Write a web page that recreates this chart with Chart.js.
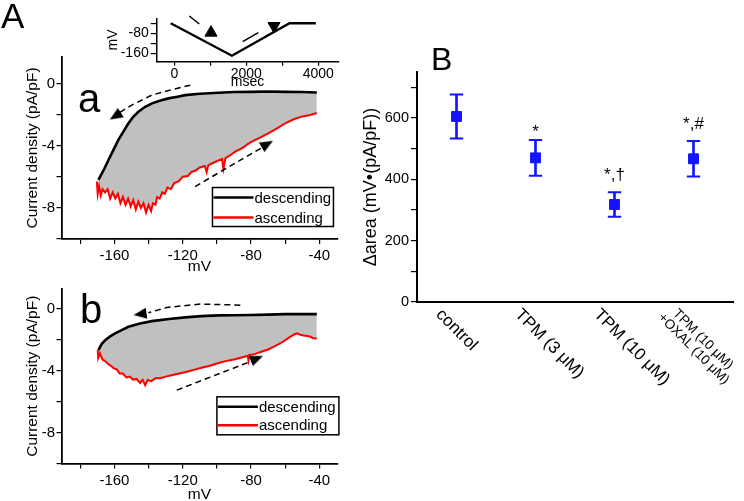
<!DOCTYPE html>
<html lang="en">
<head>
<meta charset="UTF-8">
<title>Ramp currents and Δarea</title>
<script src="https://cdn.jsdelivr.net/npm/chart.js"></script>
<style>
  body { margin: 0; background: #fff; }
  #fig { position: relative; width: 744px; height: 501px; overflow: hidden; background: #fff; }
  #fig canvas { position: absolute; left: 0; top: 0; }
</style>
</head>
<body>
<div id="fig">
  <canvas id="rampA" width="744" height="520"></canvas>
  <canvas id="rampB" width="744" height="520"></canvas>
  <canvas id="protocol" width="744" height="520"></canvas>
  <canvas id="areaChart" width="744" height="520"></canvas>
</div>
<script>
// ---- panel a (control): descending / ascending ramp, mV vs pA/pF
const aDescMV = [-169.4, -166, -163.5, -160.5, -157.7, -154.5, -151.8, -149, -146, -142, -138, -133, -128.4, -123, -118.6, -110, -99, -90, -80, -70, -60, -50, -41.5];
const aDescPA = [-6.2, -5.5, -4.92, -4.25, -3.63, -3.05, -2.56, -2.15, -1.82, -1.5, -1.28, -1.1, -0.96, -0.85, -0.75, -0.66, -0.6, -0.55, -0.54, -0.52, -0.54, -0.55, -0.58];
const aAscMV = [-170.3, -169.8, -169, -168, -167, -165.5, -164, -162.5, -161, -159.5, -158, -156.5, -155, -153.5, -152, -150.5, -149, -147.5, -146, -144.5, -143, -141.5, -140, -138.5, -137.5, -136, -135, -133.5, -132, -130.5, -129, -127, -125, -122.5, -120, -117, -115, -112.5, -110, -107, -106, -105, -102, -99, -97, -96.2, -95, -92, -89.3, -85, -82, -79.6, -75, -70, -65, -60, -55, -50, -46, -43, -41.5];
const aAscPA = [-6.3, -7.1, -6.6, -7.2, -6.8, -7.0, -6.8, -7.4, -7.0, -7.4, -7.1, -7.7, -7.3, -7.8, -7.4, -7.9, -7.5, -8.1, -7.6, -8.0, -7.7, -8.3, -7.8, -8.2, -7.7, -7.8, -7.3, -7.4, -7.0, -7.1, -6.7, -6.8, -6.4, -6.3, -6.0, -5.95, -5.7, -5.6, -5.4, -5.3, -5.7, -5.25, -5.1, -4.95, -4.85, -5.5, -4.8, -4.6, -4.38, -4.15, -3.9, -3.74, -3.5, -3.21, -2.9, -2.56, -2.3, -2.12, -2.05, -1.95, -1.9];

// ---- panel b (TPM 10 μM)
const bDescMV = [-169.4, -167.5, -165.4, -162.5, -159.6, -155.5, -151.8, -145, -138.1, -128, -118.6, -109, -99, -90, -80, -70, -60, -50, -41.5];
const bDescPA = [-2.69, -2.3, -2.05, -1.8, -1.61, -1.38, -1.19, -0.98, -0.82, -0.68, -0.58, -0.5, -0.45, -0.44, -0.43, -0.4, -0.37, -0.37, -0.37];
const bAscMV = [-169.8, -169.5, -168.5, -167, -165.5, -163.5, -162, -160.5, -158.5, -157, -155, -153, -151, -149, -147, -145, -143.5, -142, -140.5, -138.5, -136, -133.2, -130, -126, -122, -117.6, -113, -108, -104, -100, -95, -90, -85, -82, -81.5, -81, -78, -74, -70, -66.9, -62, -58, -55, -53.2, -51.5, -49.3, -46, -43.5, -41.5];
const bAscPA = [-2.69, -3.2, -2.9, -3.3, -3.4, -3.6, -3.7, -3.85, -3.95, -4.2, -4.2, -4.45, -4.4, -4.6, -4.55, -4.8, -4.6, -4.95, -4.6, -4.7, -4.5, -4.5, -4.4, -4.3, -4.2, -4.09, -3.95, -3.8, -3.7, -3.55, -3.4, -3.3, -3.15, -3.05, -3.35, -3.0, -2.95, -2.8, -2.65, -2.48, -2.2, -1.9, -1.7, -1.61, -1.68, -1.75, -1.8, -1.92, -1.94];

// dashed direction arrows [x, y] and arrow heads [x, y, rotation]
const aGuideTop = [[-115.6, -127.4, -138.1, -149.8, -157.7], [-0.11, -0.43, -0.75, -1.39, -1.92]];
const aGuideLow = [[-112.8, -72.5], [-6.63, -4.05]];
const aHeads = [[-159.5, -70.5], [-2.1, -3.9], [238, 60]];
const bGuideTop = [[-86.3, -109.8, -129.3, -140.1], [0.21, 0.28, 0.06, -0.28]];
const bGuideLow = [[-123.5, -79], [-5.27, -3.37]];
const bHeads = [[-145, -76.6], [-0.37, -3.23], [262, 68]];

// ---- voltage protocol inset
const protoMs = [-100, 1600, 3200, 3930];
const protoMV = [-40, -170, -40, -40];

// ---- panel B: Δarea
const groups = ['control', 'TPM (3 μM)', 'TPM (10 μM)', ['TPM (10 μM)', '+OXAL (10 μM)']];
const areaMean = [605, 470, 318, 467];
const areaErr = [72, 58, 40, 58];
const areaMarks = ['', '*', '*,†', '*,#'];

// ---- ticks
const currentTicks = [-10, -8, -6, -4, -2, 0];
const mvTicks = [-180, -160, -140, -120, -100, -80, -60, -40];
const msTicks = [0, 1000, 2000, 3000, 4000];
const protoTicks = [-160, -120, -80, -40];
const areaTicks = [0, 100, 200, 300, 400, 500, 600, 700];

const FONT = '"Liberation Sans", Arial, Helvetica, sans-serif';
const BLUE = '#1414ff';
const W = 744, H = 520;
Chart.defaults.font.family = FONT;
Chart.defaults.color = '#000';

const pts = (xs, ys) => xs.map((x, i) => ({ x, y: ys[i] }));

// narrow arrow head used as a point style (points up before rotation)
function arrowHead(len, half) {
  const c = document.createElement('canvas');
  c.width = half * 2; c.height = len;
  const g = c.getContext('2d');
  g.fillStyle = '#000';
  g.beginPath(); g.moveTo(half, 0); g.lineTo(half * 2, len); g.lineTo(0, len); g.closePath(); g.fill();
  return c;
}
const HEAD = arrowHead(13, 5.5);

function axis(o) {
  return {
    type: 'linear', min: o.min, max: o.max,
    afterBuildTicks: s => { s.ticks = o.ticks.map(v => ({ value: v })); },
    afterFit: s => { if (o.horizontal) s.height = o.fit; else s.width = o.fit; },
    ticks: { autoSkip: false, maxRotation: 0, padding: o.pad, font: { size: o.size },
      callback: v => (v % o.major === 0 ? String(v) : '') },
    grid: { drawOnChartArea: false, tickLength: o.tickLen, color: '#000', lineWidth: 1.2 },
    border: { color: '#000', width: o.lw || 1.8 },
    title: { display: true, text: o.title, font: { size: o.titleSize }, padding: 0 }
  };
}

// text notes, in data units unless pixel: true
const notes = {
  id: 'notes',
  afterDraw(chart, args, opts) {
    const { ctx, scales } = chart;
    ctx.save();
    ctx.fillStyle = '#000';
    ctx.textAlign = 'left';
    ctx.textBaseline = 'alphabetic';
    (opts.items || []).forEach(it => {
      ctx.font = it.size + 'px ' + FONT;
      const x = it.pixel ? it.x : scales.x.getPixelForValue(it.x);
      const y = it.pixel ? it.y : scales.y.getPixelForValue(it.y);
      ctx.fillText(it.text, x, y);
    });
    ctx.restore();
  }
};

// framed legend placed at a data position
const boxLegend = {
  id: 'boxLegend',
  afterDraw(chart, args, opts) {
    if (!opts.at) return;
    const { ctx, scales: { x, y } } = chart;
    const left = x.getPixelForValue(opts.at[0]), top = y.getPixelForValue(opts.at[1]);
    ctx.save();
    ctx.strokeStyle = '#000';
    ctx.lineWidth = 1.5;
    ctx.strokeRect(left, top, opts.w, opts.h);
    chart.data.datasets.filter(d => d.inLegend).forEach((d, i) => {
      const yy = top + 10 + i * opts.step;
      ctx.strokeStyle = d.borderColor;
      ctx.lineWidth = 2.5;
      ctx.beginPath(); ctx.moveTo(left + 1, yy); ctx.lineTo(left + 41, yy); ctx.stroke();
      ctx.fillStyle = '#000';
      ctx.font = '15px ' + FONT;
      ctx.textBaseline = 'middle';
      ctx.fillText(d.label, left + 42, yy + 1);
    });
    ctx.restore();
  }
};

function rampChart(id, box, yMax, tr, guideTop, guideLow, heads, legend, letters) {
  const dash = { borderColor: '#000', borderWidth: 1.5, borderDash: [6, 4], pointRadius: 0, fill: false, order: 1 };
  return new Chart(document.getElementById(id), {
    type: 'line',
    data: {
      datasets: [
        { label: 'descending', data: pts(tr[0], tr[1]), borderColor: '#000', borderWidth: 2.6, pointRadius: 0,
          fill: '+1', backgroundColor: '#c0c0c0', order: 4, inLegend: true },
        { label: 'ascending', data: pts(tr[2], tr[3]), borderColor: '#ff0000', borderWidth: 2, pointRadius: 0,
          fill: false, order: 3, inLegend: true },
        Object.assign({ data: pts(guideTop[0], guideTop[1]) }, dash),
        Object.assign({ data: pts(guideLow[0], guideLow[1]) }, dash),
        { data: pts(heads[0], heads[1]), showLine: false, pointStyle: HEAD, pointRadius: 7,
          pointRotation: heads[2], order: 0 }
      ]
    },
    options: {
      responsive: false, animation: false, events: [],
      layout: { padding: { left: box.l - 38, top: box.t, right: W - box.r, bottom: H - box.b - box.xh } },
      plugins: {
        legend: { display: false }, tooltip: { enabled: false },
        boxLegend: legend, notes: { items: letters }
      },
      scales: {
        x: axis({ min: -191, max: -29.5, ticks: mvTicks, major: 40, size: 15, tickLen: 5, pad: 3,
          title: 'mV', titleSize: 15.5, fit: box.xh, horizontal: true }),
        y: axis({ min: -10, max: yMax, ticks: currentTicks, major: 4, size: 15, tickLen: 5, pad: 1.5,
          title: 'Current density (pA/pF)', titleSize: 15.5, fit: 38 })
      }
    },
    plugins: [boxLegend, notes]
  });
}

rampChart('rampA', { l: 61.5, t: 57, r: 337.3, b: 239, xh: 37 }, 1.7,
  [aDescMV, aDescPA, aAscMV, aAscPA], aGuideTop, aGuideLow, aHeads,
  { at: [-102.6, -6.69], w: 121, h: 39, step: 20 },
  [{ text: 'A', x: 1, y: 28, size: 35, pixel: true }, { text: 'a', x: -181.3, y: -1.84, size: 40 }]);

rampChart('rampB', { l: 61.5, t: 289, r: 337.3, b: 463.5, xh: 40.5 }, 1.25,
  [bDescMV, bDescPA, bAscMV, bAscPA], bGuideTop, bGuideLow, bHeads,
  { at: [-100, -5.7], w: 122, h: 38, step: 18.5 },
  [{ text: 'b', x: -180.1, y: -0.95, size: 40 }]);

// voltage protocol inset
new Chart(document.getElementById('protocol'), {
  type: 'line',
  data: {
    datasets: [
      { data: pts(protoMs, protoMV), borderColor: '#000', borderWidth: 2.4, pointRadius: 0 },
      { data: pts([417, 694], [-10.8, -42.8]), borderColor: '#000', borderWidth: 1.5, pointRadius: 0, clip: false },
      { data: pts([1900, 2333], [-113.6, -77.6]), borderColor: '#000', borderWidth: 1.5, pointRadius: 0 },
      { data: pts([1019, 2769], [-77.6, -51]), showLine: false, pointStyle: 'triangle', pointRadius: 7,
        pointRotation: [0, 180], pointBackgroundColor: '#000', pointBorderColor: '#000', clip: false }
    ]
  },
  options: {
    responsive: false, animation: false, events: [],
    layout: { padding: { left: 156.7 - 52, top: 18.3, right: W - 338.3, bottom: H - 61.7 - 28.7 } },
    plugins: { legend: { display: false }, tooltip: { enabled: false } },
    scales: {
      x: axis({ min: -489, max: 4555, ticks: msTicks, major: 2000, size: 14, tickLen: 4, pad: 0,
        title: 'msec', titleSize: 14, fit: 28.7, horizontal: true, lw: 1.5 }),
      y: axis({ min: -194, max: -20, ticks: protoTicks, major: 80, size: 14, tickLen: 6, pad: 2,
        title: 'mV', titleSize: 14, fit: 52, lw: 1.5 })
    }
  }
});

// panel B: Δarea mean ± error
const areaLo = areaMean.map((m, i) => m - areaErr[i]);
const areaHi = areaMean.map((m, i) => m + areaErr[i]);

const areaDecor = {
  id: 'areaDecor',
  afterDraw(chart) {
    const { ctx, scales: { x, y }, chartArea } = chart;
    ctx.save();
    ctx.fillStyle = '#000';
    ctx.textAlign = 'center';
    ctx.textBaseline = 'alphabetic';
    ctx.font = '17px ' + FONT;
    areaMarks.forEach((m, i) => {
      if (!m) return;
      ctx.fillText(m, x.getPixelForValue(i), y.getPixelForValue(areaHi[i]) - (m.length > 1 ? 12 : 3));
    });
    // slanted category labels
    groups.forEach((g, i) => {
      const lines = [].concat(g);
      const multi = lines.length > 1;
      const size = multi ? 13.5 : 17;
      ctx.font = size + 'px ' + FONT;
      const wMax = Math.max(...lines.map(t => ctx.measureText(t).width));
      ctx.save();
      ctx.translate(x.getPixelForValue(i) - (multi ? 24 : 18), chartArea.bottom + (multi ? 4 : 10));
      ctx.rotate(Math.PI / 4);
      ctx.textBaseline = 'middle';
      lines.forEach((t, k) => ctx.fillText(t, wMax / 2, k * 13.4));
      ctx.restore();
    });
    ctx.font = '32px ' + FONT;
    ctx.textAlign = 'left';
    ctx.fillText('B', 431, 70);
    ctx.restore();
  }
};

new Chart(document.getElementById('areaChart'), {
  type: 'bar',
  data: {
    labels: groups,
    datasets: [
      { type: 'bar', data: areaMean.map((m, i) => [areaLo[i], areaHi[i]]), backgroundColor: BLUE,
        barThickness: 2, order: 3 },
      { type: 'line', data: areaHi, showLine: false, pointStyle: 'line', pointRadius: 6.7,
        pointBorderWidth: 2, pointBorderColor: BLUE, order: 2 },
      { type: 'line', data: areaLo, showLine: false, pointStyle: 'line', pointRadius: 6.7,
        pointBorderWidth: 2, pointBorderColor: BLUE, order: 2 },
      { type: 'line', data: areaMean, showLine: false, pointStyle: 'rect', pointRadius: 7,
        pointBackgroundColor: BLUE, pointBorderColor: BLUE, pointBorderWidth: 1, order: 1 }
    ]
  },
  options: {
    responsive: false, animation: false, events: [],
    layout: { padding: { left: 417 - 57, top: 72, right: W - 733, bottom: H - 302 - 10 } },
    plugins: { legend: { display: false }, tooltip: { enabled: false } },
    scales: {
      x: {
        type: 'category', offset: true,
        afterFit: s => { s.height = 10; },
        ticks: { display: false },
        grid: { drawOnChartArea: false, drawTicks: false, color: '#000' },
        border: { color: '#000', width: 2 }
      },
      y: axis({ min: 0, max: 750, ticks: areaTicks, major: 200, size: 14.5, tickLen: 6, pad: 2,
        title: 'Δarea (mV•(pA/pF))', titleSize: 18, fit: 57, lw: 2 })
    }
  },
  plugins: [areaDecor]
});
</script>
</body>
</html>
